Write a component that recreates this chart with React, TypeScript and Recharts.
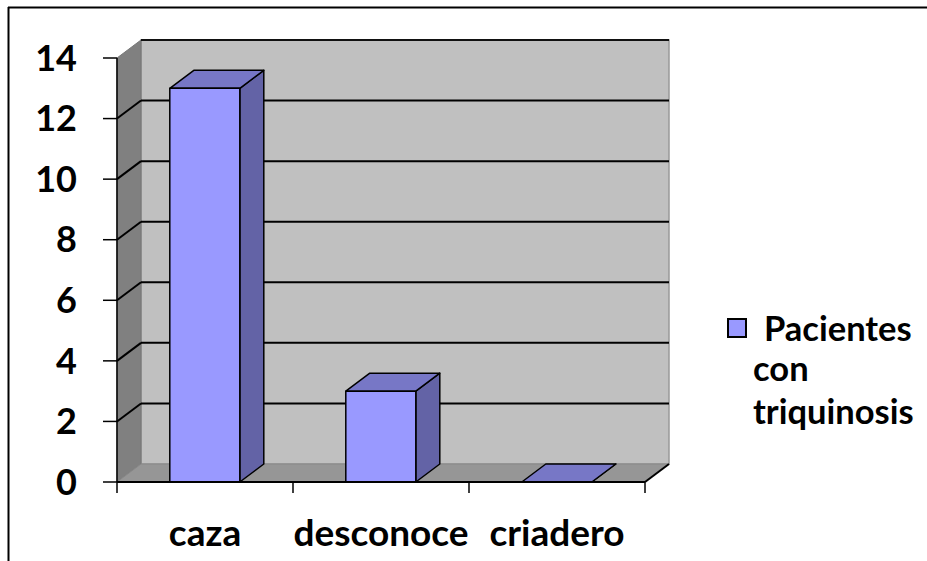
import React from "react";
import { BarChart, Bar, XAxis, YAxis, CartesianGrid, Legend } from "recharts";

const categories = ["caza", "desconoce", "criadero"];
const pacientes = [13, 3, 0];
const yTicks = [0, 2, 4, 6, 8, 10, 12, 14];
const seriesName = "Pacientes con triquinosis";

const data = categories.map((name, i) => ({ name, value: pacientes[i] }));

// plot frame (front plane) and 3D depth
const W = 927;
const H = 561;
const LEFT = 117;
const TOP = 58;
const RIGHT = 645;
const BOTTOM = 482;
const DX = 24;
const DY = 18;
const BAND = (RIGHT - LEFT) / categories.length;
const FONT = "Lato, 'Liberation Sans', sans-serif";

function Walls() {
  return (
    <svg width={W} height={H} style={{ position: "absolute", left: 0, top: 0 }}>
      <line x1={8} y1={7.5} x2={W} y2={7.5} stroke="#000" strokeWidth={2} />
      <line x1={8.5} y1={7} x2={8.5} y2={H} stroke="#000" strokeWidth={2} />
      {/* back wall */}
      <rect x={LEFT + DX} y={TOP - DY} width={RIGHT - LEFT} height={BOTTOM - TOP} fill="#c0c0c0" stroke="#999" strokeWidth={1.5} />
      {/* side wall */}
      <polygon
        points={`${LEFT},${TOP} ${LEFT + DX},${TOP - DY} ${LEFT + DX},${BOTTOM - DY} ${LEFT},${BOTTOM}`}
        fill="#808080"
        stroke="#777"
      />
      {/* floor */}
      <polygon
        points={`${LEFT},${BOTTOM} ${LEFT + DX},${BOTTOM - DY} ${RIGHT + DX},${BOTTOM - DY} ${RIGHT},${BOTTOM}`}
        fill="#969696"
        stroke="#888"
      />
      <line x1={LEFT + DX} y1={TOP - DY} x2={RIGHT + DX} y2={TOP - DY} stroke="#111" strokeWidth={2} />
      <line x1={RIGHT} y1={BOTTOM} x2={RIGHT + DX} y2={BOTTOM - DY} stroke="#000" strokeWidth={2} />
    </svg>
  );
}

function GridLine(props: any) {
  const { x1, x2, y1 } = props;
  if (Math.abs(y1 - BOTTOM) < 1 || Math.abs(y1 - TOP) < 1) return <g />;
  return (
    <g>
      <line x1={x1} y1={y1} x2={x1 + DX} y2={y1 - DY} stroke="#000" strokeWidth={2} />
      <line x1={x1 + DX} y1={y1 - DY} x2={x2 + DX} y2={y1 - DY} stroke="#000" strokeWidth={2} />
    </g>
  );
}

function Bar3D(props: any) {
  const { x, y, width, height } = props;
  const r = x + width;
  const b = y + height;
  return (
    <g stroke="#000" strokeWidth={1.5} strokeLinejoin="round">
      <polygon points={`${r},${y} ${r + DX},${y - DY} ${r + DX},${b - DY} ${r},${b}`} fill="#6363a6" />
      <polygon points={`${x},${y} ${x + DX},${y - DY} ${r + DX},${y - DY} ${r},${y}`} fill="#7777c6" />
      {height > 0 && <rect x={x} y={y} width={width} height={height} fill="#9999ff" />}
    </g>
  );
}

function XTick(props: any) {
  const { x, payload, index } = props;
  const last = index === categories.length - 1;
  return (
    <g>
      <line x1={x - BAND / 2} y1={BOTTOM} x2={x - BAND / 2} y2={BOTTOM + 11} stroke="#000" strokeWidth={1.5} />
      {last && <line x1={x + BAND / 2} y1={BOTTOM} x2={x + BAND / 2} y2={BOTTOM + 11} stroke="#000" strokeWidth={1.5} />}
      <text x={x} y={BOTTOM + 64} textAnchor="middle" fontFamily={FONT} fontWeight={700} fontSize={37} fill="#000">
        {payload.value}
      </text>
    </g>
  );
}

function LegendBox() {
  const words = seriesName.split(" ");
  return (
    <div style={{ position: "relative", fontFamily: FONT, fontWeight: 700, fontSize: 34.5, color: "#000", lineHeight: "42px" }}>
      <div style={{ position: "absolute", left: 0, top: 8, width: 16, height: 16, background: "#9999ff", border: "2px solid #000" }} />
      <div style={{ position: "absolute", left: 37, top: -3, whiteSpace: "nowrap" }}>{words[0]}</div>
      <div style={{ position: "absolute", left: 26, top: 37, whiteSpace: "nowrap" }}>{words[1]}</div>
      <div style={{ position: "absolute", left: 26, top: 80, whiteSpace: "nowrap" }}>{words[2]}</div>
    </div>
  );
}

export default function App() {
  return (
    <div style={{ position: "absolute", left: 0, top: 0, width: W, height: H, background: "#fff" }}>
      <Walls />
      <div style={{ position: "absolute", left: 0, top: 0 }}>
        <BarChart width={W} height={H} data={data} margin={{ top: TOP, right: W - RIGHT, bottom: 0, left: 0 }} barCategoryGap="30%">
          <CartesianGrid vertical={false} horizontal={GridLine as any} />
          <YAxis
            width={LEFT}
            domain={[0, 14]}
            ticks={yTicks}
            interval={0}
            tickSize={14}
            tickMargin={26}
            axisLine={{ stroke: "#000", strokeWidth: 1.5 }}
            tickLine={{ stroke: "#000", strokeWidth: 1.5 }}
            tick={{ fill: "#000", fontSize: 36, fontWeight: 700, fontFamily: FONT }}
          />
          <XAxis
            dataKey="name"
            height={H - BOTTOM}
            axisLine={{ stroke: "#000", strokeWidth: 2 }}
            tickLine={false}
            tick={<XTick />}
            interval={0}
          />
          <Bar dataKey="value" name={seriesName} shape={<Bar3D />} isAnimationActive={false} />
          <Legend content={<LegendBox />} wrapperStyle={{ position: "absolute", left: 727, top: 310, width: 200, height: 0 }} />
        </BarChart>
      </div>
    </div>
  );
}
